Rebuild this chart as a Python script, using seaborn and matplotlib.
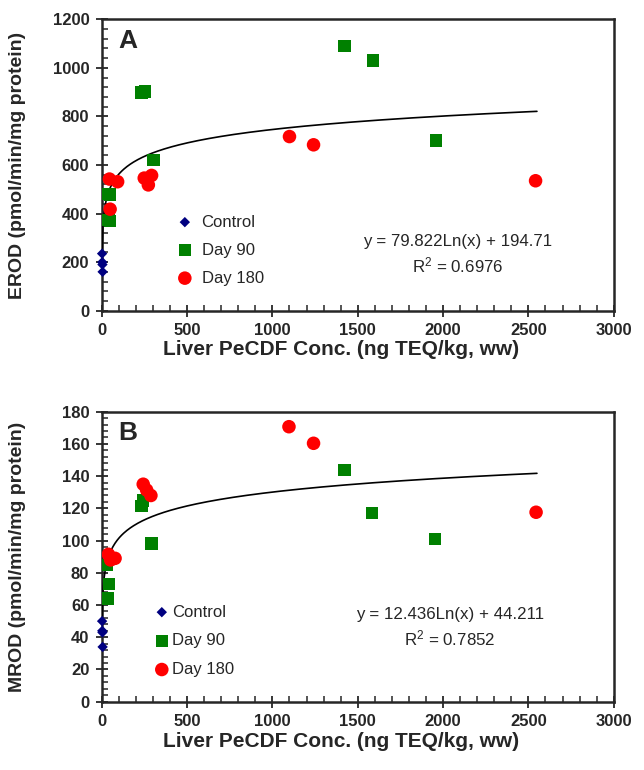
import numpy as np
import pandas as pd
import matplotlib
matplotlib.use("Agg")
import matplotlib.pyplot as plt
import seaborn as sns
from matplotlib.ticker import MultipleLocator

sns.set_style("ticks")
plt.rcParams['font.family'] = ['Liberation Sans', 'DejaVu Sans']
plt.rcParams['mathtext.default'] = 'regular'

# ---- data ----
# panel A: EROD
a_ctrl_x = [2, 3, 4, 5]
a_ctrl_y = [235, 200, 190, 160]
a_d90_x = [39, 50, 39, 50, 234, 253, 302, 1422, 1588, 1958]
a_d90_y = [480, 478, 374, 370, 899, 903, 621, 1089, 1030, 700]
a_d180_x = [45, 93, 49, 249, 292, 273, 1100, 1241, 2542]
a_d180_y = [542, 531, 418, 546, 557, 518, 717, 683, 535]
a_fit = (79.822, 194.71)
a_r2 = 0.6976

# panel B: MROD
b_ctrl_x = [2, 3, 4, 5]
b_ctrl_y = [50, 44, 43, 34]
b_d90_x = [29, 43, 33, 234, 243, 292, 1422, 1584, 1954]
b_d90_y = [85, 73, 64, 121.5, 125, 98.3, 143.8, 117, 101]
b_d180_x = [39, 52, 78, 243, 263, 288, 1097, 1241, 2545]
b_d180_y = [91.5, 88, 89, 135, 131.4, 128, 170.7, 160.4, 117.6]
b_fit = (12.436, 44.211)
b_r2 = 0.7852

xlab = 'Liver PeCDF Conc. (ng TEQ/kg, ww)'


def panel(ax, letter, ylab, ymax, ymaj, cx, cy, d90x, d90y, d180x, d180y,
          fit, r2, eq_xy, leg_anchor, leg_pad, leg_space):
    fx = np.linspace(1, 2550, 400)
    fy = fit[0] * np.log(fx) + fit[1]
    sns.lineplot(x=fx, y=fy, ax=ax, color='black', lw=1.2, zorder=3)
    sns.scatterplot(x=cx, y=cy, ax=ax, marker='D', color='#000080', s=28,
                    edgecolor='none', label='Control', zorder=5, clip_on=False)
    sns.scatterplot(x=d90x, y=d90y, ax=ax, marker='s', color='#008000', s=80,
                    edgecolor='none', label='Day 90', zorder=4)
    sns.scatterplot(x=d180x, y=d180y, ax=ax, marker='o', color='#FF0000', s=95,
                    edgecolor='none', label='Day 180', zorder=4)

    ax.set_xlim(0, 3000)
    ax.set_ylim(0, ymax)
    ax.xaxis.set_major_locator(MultipleLocator(500))
    ax.xaxis.set_minor_locator(MultipleLocator(100))
    ax.yaxis.set_major_locator(MultipleLocator(ymaj))
    ax.yaxis.set_minor_locator(MultipleLocator(ymaj / 5))
    ax.tick_params(which='major', direction='inout', length=9, width=1.3,
                   labelsize=12)
    ax.tick_params(axis='x', which='major', pad=4)
    ax.tick_params(axis='y', which='major', pad=4.5)
    ax.tick_params(which='minor', direction='in', length=4, width=1.1)
    for lbl in ax.get_xticklabels() + ax.get_yticklabels():
        lbl.set_fontweight('bold')
    for sp in ax.spines.values():
        sp.set_linewidth(1.8)
        sp.set_visible(True)

    ax.set_xlabel(xlab, fontsize=15, fontweight='bold')
    ax.set_ylabel(ylab, fontsize=14, fontweight='bold')

    ax.text(150, ymax * 0.925, letter, fontsize=19, fontweight='bold',
            ha='center', va='center')
    ax.text(eq_xy[0], eq_xy[1], 'y = %gLn(x) + %g' % fit, fontsize=12.2,
            ha='center', va='center')
    ax.text(eq_xy[0], eq_xy[2], 'R$^2$ = %.4f' % r2, fontsize=12.2,
            ha='center', va='center')

    ax.legend(loc='upper left', bbox_to_anchor=leg_anchor, frameon=False,
              fontsize=12, handlelength=1.0, handletextpad=leg_pad,
              labelspacing=leg_space, borderpad=0, borderaxespad=0)


fig = plt.figure(figsize=(6.44, 7.7), dpi=100)
ax1 = fig.add_axes([0.158, 0.5965, 0.795, 0.3785])
ax2 = fig.add_axes([0.158, 0.0887, 0.795, 0.3766])

panel(ax1, 'A', 'EROD (pmol/min/mg protein)', 1200, 200,
      a_ctrl_x, a_ctrl_y, a_d90_x, a_d90_y, a_d180_x, a_d180_y,
      a_fit, a_r2, (2085, 283, 185), (0.146, 0.33), 0.5, 0.78)
panel(ax2, 'B', 'MROD (pmol/min/mg protein)', 180, 20,
      b_ctrl_x, b_ctrl_y, b_d90_x, b_d90_y, b_d180_x, b_d180_y,
      b_fit, b_r2, (2040, 54, 39.5), (0.101, 0.335), 0.1, 0.82)

ax1.xaxis.set_label_coords(0.467, -0.1)
ax2.xaxis.set_label_coords(0.467, -0.103)
ax1.yaxis.set_label_coords(-0.148, 0.5)
ax2.yaxis.set_label_coords(-0.148, 0.5)

fig.savefig('out.png', dpi=100)
